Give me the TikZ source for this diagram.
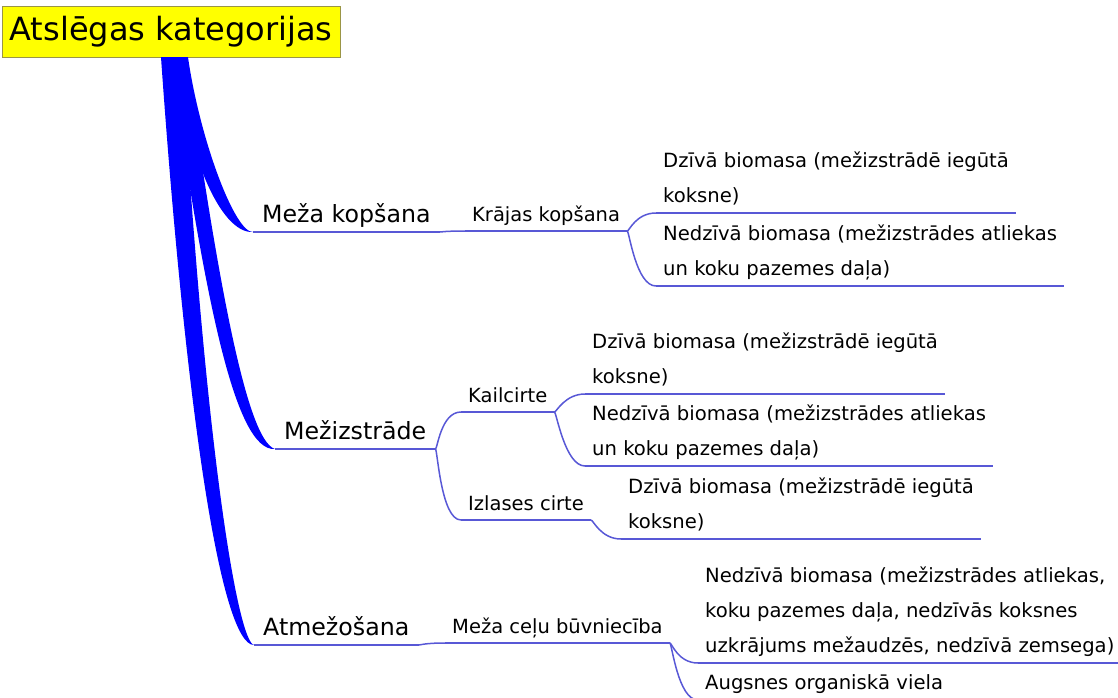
\documentclass[tikz,border=0pt]{standalone}
\usepackage{fontspec}
\setmainfont{DejaVu Sans}
\definecolor{branchblue}{RGB}{0,0,255}
\definecolor{twigblue}{RGB}{88,88,214}
\definecolor{rootyellow}{RGB}{255,255,0}

\begin{document}
\begin{tikzpicture}[
		x=1pt, y=-1pt,
		root/.style  = {draw=yellow!55!black, fill=rootyellow, thin, minimum width=338pt, minimum height=51pt, inner sep=0pt, font=\fontsize{32}{36}\selectfont},
		topic/.style = {anchor=south west, inner xsep=9pt, inner ysep=9.5pt, text depth=0pt, font=\fontsize{23.7}{28}\selectfont},
		sub/.style   = {topic, inner xsep=7pt, font=\fontsize{19.5}{24}\selectfont},
		leaf/.style  = {sub, align=left, inner ysep=10pt, font=\fontsize{19.6}{35}\selectfont},
		trunk/.style = {fill=branchblue},
		twig/.style  = {draw=twigblue, line width=1.5pt},
		fork/.style  = {to path={.. controls ([xshift=2pt]\tikztostart) and ([xshift=-20pt]\tikztotarget) .. (\tikztotarget)}}]
		
		\useasboundingbox (0,0) rectangle (1118,697);
		
		% root of the map
		\node[root] (root) at (171,31.5) {Atslēgas kategorijas};
		
		% the first level, the underline ends where the thick branch ends
		\node[topic] (mk) at (253,232) {Meža kopšana};
		\node[topic] (mz) at (275,449) {Mežizstrāde};
		\node[topic] (am) at (254,645) {Atmežošana};
		
		% the second level
		\node[sub] (kk) at (465,231) {Krājas kopšana};
		\node[sub] (kc) at (461,412) {Kailcirte};
		\node[sub] (ic) at (461,520) {Izlases cirte};
		\node[sub] (mc) at (445,643) {Meža ceļu būvniecība};
		
		% the leaves
		\node[leaf] (l11) at (656,213) {Dzīvā biomasa (mežizstrādē iegūtā\\koksne)};
		\node[leaf] (l12) at (656,286) {Nedzīvā biomasa (mežizstrādes atliekas\\un koku pazemes daļa)};
		\node[leaf] (l21) at (585,394) {Dzīvā biomasa (mežizstrādē iegūtā\\koksne)};
		\node[leaf] (l22) at (585,466) {Nedzīvā biomasa (mežizstrādes atliekas\\un koku pazemes daļa)};
		\node[leaf] (l31) at (621,539) {Dzīvā biomasa (mežizstrādē iegūtā\\koksne)};
		\node[leaf] (l41) at (698,663) {Nedzīvā biomasa (mežizstrādes atliekas,\\koku pazemes daļa, nedzīvās koksnes\\uzkrājums mežaudzēs, nedzīvā zemsega)};
		\node[leaf] (l42) at (698,700) {Augsnes organiskā viela};
		
		% thick tapering branches from the root
		\fill[trunk] ([xshift=7pt]root.south) .. controls +(7,93) and +(-33,2) .. (mk.south west)
			.. controls +(-18,1) and +(12,83) .. ([xshift=17pt]root.south) -- cycle;
		\fill[trunk] ([xshift=-1pt]root.south) .. controls +(35,243) and +(-40,3) .. (mz.south west)
			.. controls +(-30,-9) and +(29,203) .. ([xshift=15pt]root.south) -- cycle;
		\fill[trunk] ([xshift=-10pt]root.south) .. controls +(24,343) and +(-34,0) .. (am.south west)
			.. controls +(-16,-3) and +(23,393) .. ([xshift=11pt]root.south) -- cycle;
		
		% underline of every node
		\foreach \n in {mk,mz,am,kk,kc,ic,mc,l11,l12,l21,l22,l31,l41,l42}
		\draw[twig] (\n.south west) -- (\n.south east);
		
		% thin lines from each node to its children
		\foreach \a/\b in {mk/kk, kk/l11, kk/l12, mz/kc, mz/ic, kc/l21, kc/l22, ic/l31, am/mc, mc/l41, mc/l42}
		\draw[twig] (\a.south east) to[fork] (\b.south west);
\end{tikzpicture}
\end{document}
